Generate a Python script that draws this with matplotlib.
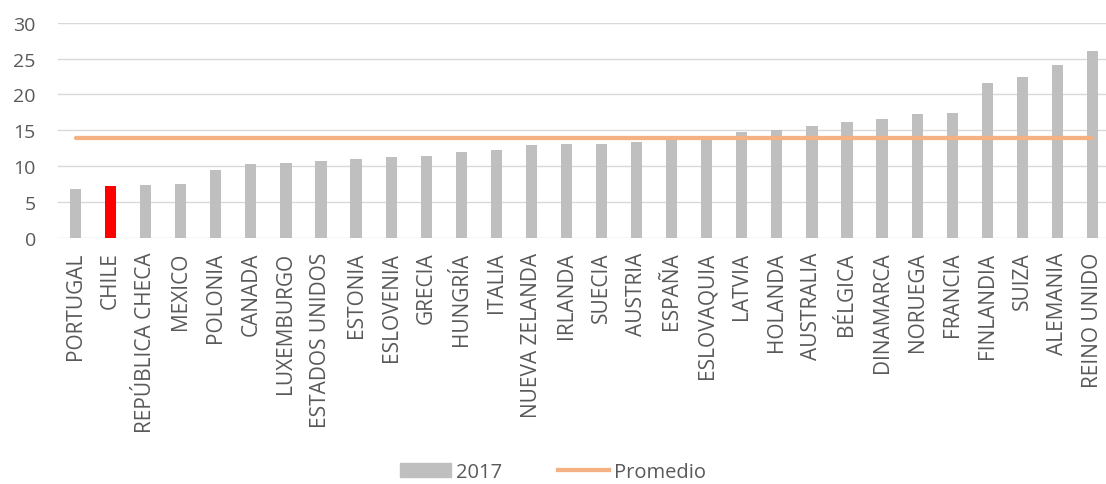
import matplotlib.pyplot as plt
from matplotlib.patches import Patch
from matplotlib.lines import Line2D

plt.rcParams['font.family'] = ['Open Sans', 'DejaVu Sans']

paises = ['PORTUGAL', 'CHILE', 'REPÚBLICA CHECA', 'MEXICO', 'POLONIA', 'CANADA',
          'LUXEMBURGO', 'ESTADOS UNIDOS', 'ESTONIA', 'ESLOVENIA', 'GRECIA', 'HUNGRÍA',
          'ITALIA', 'NUEVA ZELANDA', 'IRLANDA', 'SUECIA', 'AUSTRIA', 'ESPAÑA',
          'ESLOVAQUIA', 'LATVIA', 'HOLANDA', 'AUSTRALIA', 'BÉLGICA', 'DINAMARCA',
          'NORUEGA', 'FRANCIA', 'FINLANDIA', 'SUIZA', 'ALEMANIA', 'REINO UNIDO']
valores_2017 = [6.8, 7.2, 7.4, 7.5, 9.4, 10.3, 10.4, 10.7, 11.0, 11.2, 11.4, 11.9,
                12.3, 12.9, 13.1, 13.1, 13.4, 13.8, 13.9, 14.7, 15.0, 15.6, 16.1, 16.6,
                17.3, 17.4, 21.6, 22.4, 24.1, 26.0]
promedio = 13.9
destacado = 'CHILE'

gris = '#BFBFBF'
naranja = '#F4B183'
texto = '#595959'

fig = plt.figure(figsize=(11.06, 4.85), dpi=100)
ax = fig.add_axes([58 / 1106, 1 - 238.7 / 485, 1052 / 1106, 215 / 485])

x = list(range(len(paises)))
colores = ['#FF0000' if p == destacado else gris for p in paises]
ax.bar(x, valores_2017, width=0.32, color=colores, zorder=2)
ax.plot(x, [promedio] * len(x), color=naranja, lw=3.1, solid_capstyle='round', zorder=3)

ax.set_xlim(-0.5, len(paises) - 0.5)
ax.set_ylim(0, 30)
ax.set_yticks(range(0, 31, 5))
ax.set_xticks(x)
ax.set_xticklabels(paises, rotation=90, ha='center', va='top', fontsize=15)
ax.tick_params(axis='both', length=0, colors=texto)
ax.tick_params(axis='y', pad=16, labelsize=14)
ax.tick_params(axis='x', pad=10)
ax.grid(axis='y', color='#D9D9D9', lw=1.0, zorder=0)
for s in ax.spines.values():
    s.set_visible(False)

# leyenda centrada bajo las etiquetas
handles = [Patch(color=gris), Line2D([0], [0], color=naranja, lw=3.1)]
fig.legend(handles, ['2017', 'Promedio'], loc='center', ncol=2, frameon=False,
           bbox_to_anchor=(553 / 1106, 12 / 485), fontsize=14.5, labelcolor=texto,
           handlelength=2.5, handleheight=0.7, columnspacing=2.8, handletextpad=0.25)

fig.savefig('out.png', dpi=100)
